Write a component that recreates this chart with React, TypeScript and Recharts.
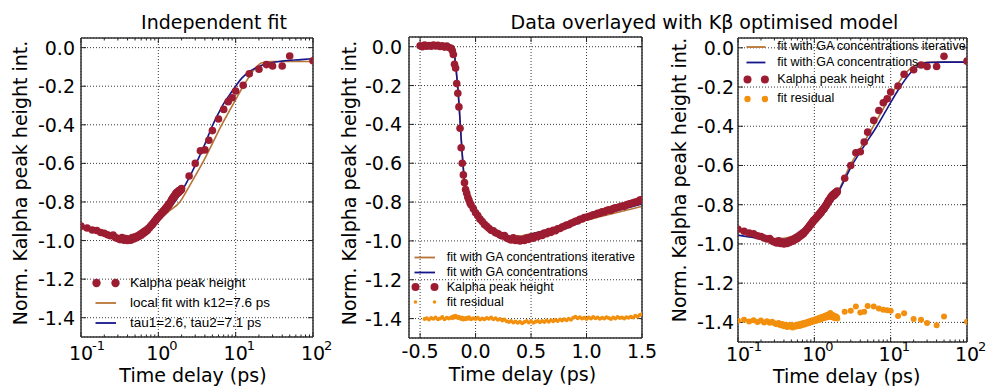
import { CartesianGrid, ComposedChart, Legend, Line, Scatter, XAxis, YAxis } from 'recharts'

const RED = '#9c1c31'
const ORANGE = '#f28f0c'
const BROWN = '#b77436'
const NAVY = '#16168c'
const AXIS_FONT = '"DejaVu Sans", sans-serif'
const LEGEND_FONT = '"Liberation Sans", Arial, sans-serif'

// time delays of the measurement (ps)
const delays = [
  -0.5, -0.48, -0.46, -0.44, -0.42, -0.4, -0.38, -0.36, -0.34, -0.32, -0.3, -0.28, -0.26, -0.24, -0.22,
  -0.21, -0.2, -0.19, -0.18, -0.17, -0.16, -0.15, -0.14, -0.13, -0.12, -0.11, -0.1, -0.09, -0.08, -0.07, -0.06, -0.05, -0.04,
  -0.02, 0, 0.02, 0.04, 0.06, 0.08, 0.1, 0.12, 0.14, 0.16,
  0.18, 0.2, 0.22, 0.24, 0.26, 0.28, 0.3, 0.32, 0.34, 0.36,
  0.38, 0.4, 0.42, 0.44, 0.46, 0.48, 0.5, 0.52, 0.54, 0.56,
  0.58, 0.6, 0.62, 0.64, 0.66, 0.68, 0.7, 0.72, 0.74, 0.76,
  0.78, 0.8, 0.82, 0.84, 0.86, 0.88, 0.9, 0.92, 0.94, 0.96,
  0.98, 1, 1.02, 1.04, 1.06, 1.08, 1.1, 1.12, 1.14, 1.16,
  1.18, 1.2, 1.22, 1.24, 1.26, 1.28, 1.3, 1.32, 1.34, 1.36,
  1.38, 1.4, 1.42, 1.44, 1.46, 1.48, 1.5, 1.52, 1.54, 1.56,
  1.58, 1.6, 1.62, 1.64, 1.66, 1.68, 1.7, 1.72, 1.74, 1.76,
  1.78, 1.8, 1.82, 1.84, 1.86, 1.88, 1.9, 1.92, 1.94, 1.96,
  1.98, 2,
  2.5, 3, 3.5, 4, 4.5, 5, 6, 7, 8, 9, 10, 12.5, 15, 20, 25, 30, 40, 50, 100,
]

// Kalpha peak height, one per delay
const kalpha = [
  0.005, 0, 0.008, 0.003, 0.006, 0.002, 0.009, 0.004, 0.007, 0.001, 0.005, -0.002, 0.003, -0.004, -0.008,
  -0.02, -0.04, -0.09, -0.11, -0.19, -0.24, -0.31, -0.42, -0.52, -0.6, -0.66, -0.7, -0.735, -0.755, -0.775, -0.79, -0.805, -0.815,
  -0.835, -0.855, -0.87, -0.888, -0.9, -0.915, -0.925, -0.935, -0.945, -0.948,
  -0.958, -0.962, -0.97, -0.975, -0.972, -0.985, -0.99, -0.995, -0.984, -0.998,
  -0.99, -1.0, -0.993, -0.998, -0.985, -0.992, -0.98, -0.986, -0.975, -0.979,
  -0.968, -0.972, -0.96, -0.963, -0.952, -0.956, -0.945, -0.948, -0.938, -0.936,
  -0.929, -0.925, -0.919, -0.917, -0.909, -0.905, -0.899, -0.897, -0.889, -0.887,
  -0.88, -0.878, -0.874, -0.871, -0.865, -0.864, -0.858, -0.857, -0.85, -0.851,
  -0.844, -0.84, -0.842, -0.834, -0.83, -0.828, -0.824, -0.82, -0.822, -0.814,
  -0.81, -0.808, -0.804, -0.8, -0.798, -0.79, -0.787, -0.785, -0.779, -0.778,
  -0.774, -0.77, -0.772, -0.764, -0.76, -0.762, -0.754, -0.758, -0.751, -0.75,
  -0.755, -0.747, -0.744, -0.75, -0.741, -0.745, -0.739, -0.742, -0.737, -0.734,
  -0.737, -0.73,
  -0.665, -0.6, -0.535, -0.53, -0.48, -0.43, -0.37, -0.32, -0.28, -0.26, -0.225, -0.195, -0.135, -0.112, -0.088, -0.095, -0.095, -0.043, -0.068,
]

// residual of the linear-axis fit, delays -0.46 .. 1.52
const residualLinear = [
  -1.402, -1.398, -1.405, -1.397, -1.401, -1.394, -1.403, -1.399, -1.392, -1.404, -1.396, -1.4, -1.393,
  -1.398, -1.388, -1.395, -1.386, -1.392, -1.397, -1.39, -1.398, -1.402, -1.395, -1.405, -1.398, -1.403, -1.396, -1.401, -1.393, -1.399, -1.404,
  -1.398, -1.402, -1.396, -1.405, -1.399, -1.403, -1.397, -1.401, -1.395, -1.404,
  -1.398, -1.406, -1.402, -1.41, -1.405, -1.414, -1.418, -1.412, -1.42, -1.415,
  -1.422, -1.416, -1.424, -1.418, -1.412, -1.42, -1.414, -1.421, -1.416, -1.412,
  -1.419, -1.413, -1.418, -1.41, -1.416, -1.409, -1.414, -1.407, -1.412, -1.405,
  -1.41, -1.404, -1.408, -1.401, -1.406, -1.396, -1.39, -1.398, -1.393, -1.4,
  -1.396, -1.402, -1.395, -1.399, -1.392, -1.398, -1.394, -1.401, -1.396, -1.399,
  -1.393, -1.397, -1.402, -1.395, -1.399, -1.392, -1.397, -1.394, -1.4, -1.393,
  -1.396, -1.39, -1.394, -1.386, -1.39, -1.382, -1.378, -1.375,
]

// residual of the log-axis fit, delays 0.1 .. 100
const residualLog = [
  -1.392, -1.386, -1.395, -1.389, -1.398, -1.391, -1.4, -1.394, -1.402, -1.397,
  -1.405, -1.41, -1.403, -1.415, -1.408, -1.42, -1.412, -1.424, -1.415, -1.421,
  -1.412, -1.426, -1.418, -1.422, -1.413, -1.42, -1.41, -1.418, -1.408, -1.415,
  -1.405, -1.412, -1.403, -1.41, -1.4, -1.406, -1.397, -1.404, -1.395, -1.401,
  -1.392, -1.398, -1.39, -1.396, -1.388, -1.394, -1.386, -1.392, -1.383, -1.39,
  -1.381, -1.388, -1.379, -1.386, -1.377, -1.384, -1.375, -1.382, -1.373, -1.38,
  -1.371, -1.378, -1.37, -1.376, -1.366, -1.374, -1.368, -1.375, -1.362, -1.37,
  -1.365, -1.372, -1.358, -1.368, -1.362, -1.37, -1.352, -1.366, -1.36, -1.372,
  -1.364, -1.37, -1.362, -1.375, -1.366, -1.372, -1.368, -1.378, -1.37, -1.376,
  -1.369, -1.375, -1.372, -1.378, -1.374, -1.38,
  -1.346, -1.341, -1.319, -1.35, -1.346, -1.316, -1.319, -1.329, -1.336, -1.338, -1.341, -1.367, -1.353, -1.383, -1.387, -1.403, -1.414, -1.37, -1.397,
]

// panel 1 fits
const localFitT = [0.1, 0.15, 0.2, 0.3, 0.4, 0.5, 0.7, 1, 1.4, 1.9, 2.5, 3, 3.7, 5, 6.6, 8, 10, 12.5, 15, 18, 22, 30, 50, 100]
const localFitY = [-0.94, -0.955, -0.967, -0.977, -0.977, -0.97, -0.945, -0.896, -0.845, -0.8, -0.72, -0.665, -0.6, -0.497, -0.4, -0.34, -0.27, -0.2, -0.15, -0.105, -0.078, -0.072, -0.072, -0.072]
const tauFitT = [1, 1.3, 1.7, 2, 2.5, 3, 4, 5, 6, 7, 8, 10, 12, 15, 20, 25, 40, 70, 100]
const tauFitY = [-0.895, -0.85, -0.79, -0.745, -0.675, -0.61, -0.5, -0.405, -0.34, -0.29, -0.255, -0.2, -0.158, -0.125, -0.098, -0.084, -0.07, -0.062, -0.057]

// panel 2 fits
const gaLinT = [-0.45, -0.3, -0.22, -0.2, -0.19, -0.18, -0.17, -0.16, -0.15, -0.14, -0.13, -0.12, -0.11, -0.1, -0.09, -0.08, -0.07, -0.06, -0.04, -0.02, 0, 0.05, 0.1, 0.15, 0.2, 0.25, 0.3, 0.4, 0.5, 0.75, 1, 1.25, 1.5]
const gaLinY = [0, 0, -0.003, -0.02, -0.045, -0.09, -0.15, -0.21, -0.29, -0.38, -0.47, -0.555, -0.63, -0.69, -0.735, -0.765, -0.785, -0.8, -0.82, -0.84, -0.865, -0.91, -0.94, -0.962, -0.976, -0.985, -0.988, -0.982, -0.966, -0.926, -0.886, -0.848, -0.81]
const gaIterLinY = [0, 0, -0.003, -0.02, -0.045, -0.09, -0.15, -0.21, -0.29, -0.38, -0.47, -0.555, -0.63, -0.69, -0.735, -0.765, -0.785, -0.798, -0.815, -0.83, -0.85, -0.895, -0.93, -0.952, -0.966, -0.974, -0.977, -0.975, -0.963, -0.93, -0.893, -0.858, -0.822]

// panel 3 fits
const gaLogT = [0.1, 0.15, 0.2, 0.3, 0.4, 0.5, 0.7, 1, 1.6, 2, 3.1, 4.5, 6.6, 9, 13.3, 18, 25, 30, 50, 100]
const gaLogY = [-0.955, -0.966, -0.975, -0.981, -0.978, -0.968, -0.938, -0.885, -0.8, -0.745, -0.6, -0.5, -0.4, -0.31, -0.2, -0.13, -0.085, -0.075, -0.073, -0.073]
const gaIterLogT = [0.1, 0.15, 0.2, 0.3, 0.4, 0.5, 0.7, 1, 1.6, 2, 2.94, 4.2, 5.93, 8.3, 11.7, 16, 22, 30, 50, 100]
const gaIterLogY = [-0.934, -0.95, -0.962, -0.972, -0.971, -0.962, -0.932, -0.874, -0.795, -0.74, -0.6, -0.5, -0.4, -0.3, -0.2, -0.125, -0.085, -0.074, -0.073, -0.073]

const yTicks = [0, -0.2, -0.4, -0.6, -0.8, -1, -1.2, -1.4]
const logTicks = [0.1, 1, 10, 100]
const logMinorTicks = [0.2, 0.3, 0.4, 0.5, 0.6, 0.7, 0.8, 0.9, 2, 3, 4, 5, 6, 7, 8, 9, 20, 30, 40, 50, 60, 70, 80, 90]
const linTicks = [-0.5, 0, 0.5, 1, 1.5]

type Pt = { x: number; y: number }
const zip = (xs: number[], ys: number[]): Pt[] =>
  xs.map((x, i) => ({ x, y: ys[i] })).filter((p) => p.y !== undefined)

const kalphaPts = zip(delays, kalpha)
const kalphaLogPts = kalphaPts.filter((p) => p.x > 0)
const resLinPts = zip(delays.filter((t) => t >= -0.46 && t <= 1.52), residualLinear)
const resLogPts = zip(delays.filter((t) => t >= 0.1), residualLog)

type Series = { kind: 'dots' | 'line'; data: Pt[]; color: string; r?: number }
type LegendItem = { label: string; kind: 'dots' | 'line'; color: string; r?: number; h: number }

// axes are given a tiny (non-zero) thickness so they draw without shifting the plot area
const THIN = 0.001
const FRAME = { stroke: '#333', strokeWidth: 1.5 }
const TICK = { stroke: '#222', strokeWidth: 1 }
const blankTick = () => <g />

const yTick = (p: any) => (
  <text x={p.x} y={p.y} dy={7} textAnchor="end" fontSize={19} fontFamily={AXIS_FONT} fill="#000">
    {Number(p.payload.value).toFixed(1)}
  </text>
)

const linTick = (base: number) => (p: any) => (
  <text x={p.x} y={p.y + base} textAnchor="middle" fontSize={19} fontFamily={AXIS_FONT} fill="#000">
    {Number(p.payload.value).toFixed(1)}
  </text>
)

const logTick = (base: number) => (p: any) => {
  const exp = Math.round(Math.log10(p.payload.value))
  return (
    <g fontFamily={AXIS_FONT} fill="#000">
      <text x={p.x} y={p.y + base} textAnchor="middle" fontSize={19}>10</text>
      <text x={p.x + 11} y={p.y + base - 10} fontSize={13}>{exp}</text>
    </g>
  )
}

function LegendBox({ items, font, gap, textX }: { items: LegendItem[]; font: number; gap: number; textX: number }) {
  return (
    <div style={{ fontFamily: LEGEND_FONT, fontSize: font, color: '#000' }}>
      {items.map((it) => (
        <div key={it.label} style={{ display: 'flex', alignItems: 'center', height: it.h, whiteSpace: 'nowrap' }}>
          <svg width={textX} height={it.h} style={{ flex: 'none' }}>
            {it.kind === 'line' ? (
              <line x1={3.5} x2={5 + gap} y1={it.h / 2} y2={it.h / 2} stroke={it.color} strokeWidth={1.8} />
            ) : (
              <>
                <circle cx={4.5} cy={it.h / 2} r={it.r} fill={it.color} />
                <circle cx={4.5 + gap} cy={it.h / 2} r={it.r} fill={it.color} />
              </>
            )}
          </svg>
          <span style={{ lineHeight: 1 }}>{it.label}</span>
        </div>
      ))}
    </div>
  )
}

type PanelProps = {
  left: number
  width: number
  margin: { top: number; right: number; bottom: number; left: number }
  log: boolean
  xDomain: [number, number]
  xBase: number
  yGap: number
  series: Series[]
  legend: { items: LegendItem[]; font: number; gap: number; textX: number; left: number; top: number }
}

function Panel({ left, width, margin, log, xDomain, xBase, yGap, series, legend }: PanelProps) {
  const xCommon = {
    type: 'number' as const,
    dataKey: 'x',
    scale: (log ? 'log' : 'linear') as any,
    domain: xDomain,
    allowDataOverflow: true,
    interval: 0 as const,
    height: THIN,
  }
  const yCommon = {
    type: 'number' as const,
    dataKey: 'y',
    domain: [-1.5, 0.05] as [number, number],
    allowDataOverflow: true,
    ticks: yTicks,
    interval: 0 as const,
    width: THIN,
  }
  return (
    <div style={{ position: 'absolute', left, top: 0 }}>
      <ComposedChart width={width} height={386} margin={margin}>
        <CartesianGrid stroke="#222" strokeDasharray="1 2" strokeWidth={0.9} />
        {series.map((s, i) =>
          s.kind === 'dots' ? (
            <Scatter
              key={i}
              data={s.data}
              dataKey="y"
              isAnimationActive={false}
              shape={(p: any) => <circle cx={p.cx} cy={p.cy} r={s.r} fill={s.color} />}
            />
          ) : (
            <Line
              key={i}
              data={s.data}
              dataKey="y"
              type="monotone"
              stroke={s.color}
              strokeWidth={1.6}
              dot={false}
              isAnimationActive={false}
            />
          ),
        )}
        <XAxis
          {...xCommon}
          xAxisId={0}
          ticks={log ? logTicks : linTicks}
          tickSize={-5}
          tickMargin={5}
          tickLine={TICK}
          axisLine={FRAME}
          tick={log ? logTick(xBase) : linTick(xBase)}
        />
        <XAxis
          {...xCommon}
          xAxisId="top"
          orientation="top"
          ticks={log ? logTicks : linTicks}
          tickSize={-5}
          tickLine={TICK}
          axisLine={FRAME}
          tick={blankTick}
        />
        {log && (
          <XAxis {...xCommon} xAxisId="minorBottom" ticks={logMinorTicks} tickSize={-2.5} tickLine={TICK} axisLine={false} tick={blankTick} />
        )}
        {log && (
          <XAxis {...xCommon} xAxisId="minorTop" orientation="top" ticks={logMinorTicks} tickSize={-2.5} tickLine={TICK} axisLine={false} tick={blankTick} />
        )}
        <YAxis {...yCommon} yAxisId={0} tickSize={-5} tickMargin={5 + yGap} tickLine={TICK} axisLine={FRAME} tick={yTick} />
        <YAxis {...yCommon} yAxisId="right" orientation="right" tickSize={-5} tickLine={TICK} axisLine={FRAME} tick={blankTick} />
        <Legend
          layout="vertical"
          align="center"
          verticalAlign="middle"
          wrapperStyle={{ left: legend.left, top: legend.top, width: 'auto', height: 'auto' }}
          content={() => <LegendBox items={legend.items} font={legend.font} gap={legend.gap} textX={legend.textX} />}
        />
      </ComposedChart>
    </div>
  )
}

const yLabel = 'Norm. Kalpha peak height int.'
const xLabel = 'Time delay (ps)'

export default function App() {
  return (
    <div style={{ position: 'absolute', left: 0, top: 0, width: 987, height: 386, background: '#fff' }}>
      <Panel
        left={0}
        width={340}
        margin={{ top: 38, right: 27, bottom: 49, left: 81 }}
        log
        xDomain={[0.1, 100]}
        xBase={23.5}
        yGap={6}
        series={[
          { kind: 'dots', data: kalphaLogPts, color: RED, r: 3.8 },
          { kind: 'line', data: zip(localFitT, localFitY), color: BROWN },
          { kind: 'line', data: zip(tauFitT, tauFitY), color: NAVY },
        ]}
        legend={{
          left: 92.2,
          top: 272.7,
          font: 13.5,
          gap: 19,
          textX: 37.8,
          items: [
            { label: 'Kalpha peak height', kind: 'dots', color: RED, r: 4.2, h: 20 },
            { label: 'local fit with k12=7.6 ps', kind: 'line', color: BROWN, h: 20 },
            { label: 'tau1=2.6, tau2=7.1 ps', kind: 'line', color: NAVY, h: 20 },
          ],
        }}
      />
      <Panel
        left={330}
        width={330}
        margin={{ top: 37, right: 18, bottom: 48, left: 79 }}
        log={false}
        xDomain={[-0.6, 1.5]}
        xBase={20}
        yGap={7}
        series={[
          { kind: 'dots', data: kalphaPts, color: RED, r: 3.8 },
          { kind: 'line', data: zip(gaLinT, gaIterLinY), color: BROWN },
          { kind: 'line', data: zip(gaLinT, gaLinY), color: NAVY },
          { kind: 'dots', data: resLinPts, color: ORANGE, r: 2 },
        ]}
        legend={{
          left: 80.5,
          top: 250.2,
          font: 12.5,
          gap: 19,
          textX: 36.2,
          items: [
            { label: 'fit with GA concentrations iterative', kind: 'line', color: BROWN, h: 15 },
            { label: 'fit with GA concentrations', kind: 'line', color: NAVY, h: 15 },
            { label: 'Kalpha peak height', kind: 'dots', color: RED, r: 4, h: 14 },
            { label: 'fit residual', kind: 'dots', color: ORANGE, r: 1.8, h: 16 },
          ],
        }}
      />
      <Panel
        left={660}
        width={327}
        margin={{ top: 38, right: 20, bottom: 44, left: 78 }}
        log
        xDomain={[0.1, 100]}
        xBase={19.5}
        yGap={4}
        series={[
          { kind: 'dots', data: kalphaLogPts, color: RED, r: 3.8 },
          { kind: 'line', data: zip(gaIterLogT, gaIterLogY), color: BROWN },
          { kind: 'line', data: zip(gaLogT, gaLogY), color: NAVY },
          { kind: 'dots', data: resLogPts, color: ORANGE, r: 3 },
        ]}
        legend={{
          left: 82.8,
          top: 38.5,
          font: 12.5,
          gap: 17.4,
          textX: 34.5,
          items: [
            { label: 'fit with GA concentrations iterative', kind: 'line', color: BROWN, h: 16 },
            { label: 'fit with GA concentrations', kind: 'line', color: NAVY, h: 15 },
            { label: 'Kalpha peak height', kind: 'dots', color: RED, r: 4, h: 19 },
            { label: 'fit residual', kind: 'dots', color: ORANGE, r: 3.2, h: 20 },
          ],
        }}
      />
      <svg
        width={987}
        height={386}
        style={{ position: 'absolute', left: 0, top: 0, pointerEvents: 'none' }}
        fontFamily={AXIS_FONT}
        fontSize={19}
        fill="#000"
      >
        <text x={214} y={29} textAnchor="middle">Independent fit</text>
        <text x={704.5} y={29} textAnchor="middle">Data overlayed with Kβ optimised model</text>
        <text x={193} y={381.5} textAnchor="middle">{xLabel}</text>
        <text x={522.5} y={381} textAnchor="middle">{xLabel}</text>
        <text x={846.7} y={382.5} textAnchor="middle">{xLabel}</text>
        <text transform="translate(27 183) rotate(-90)" textAnchor="middle">{yLabel}</text>
        <text transform="translate(356 183) rotate(-90)" textAnchor="middle">{yLabel}</text>
        <text transform="translate(686 180) rotate(-90)" textAnchor="middle">{yLabel}</text>
      </svg>
    </div>
  )
}
